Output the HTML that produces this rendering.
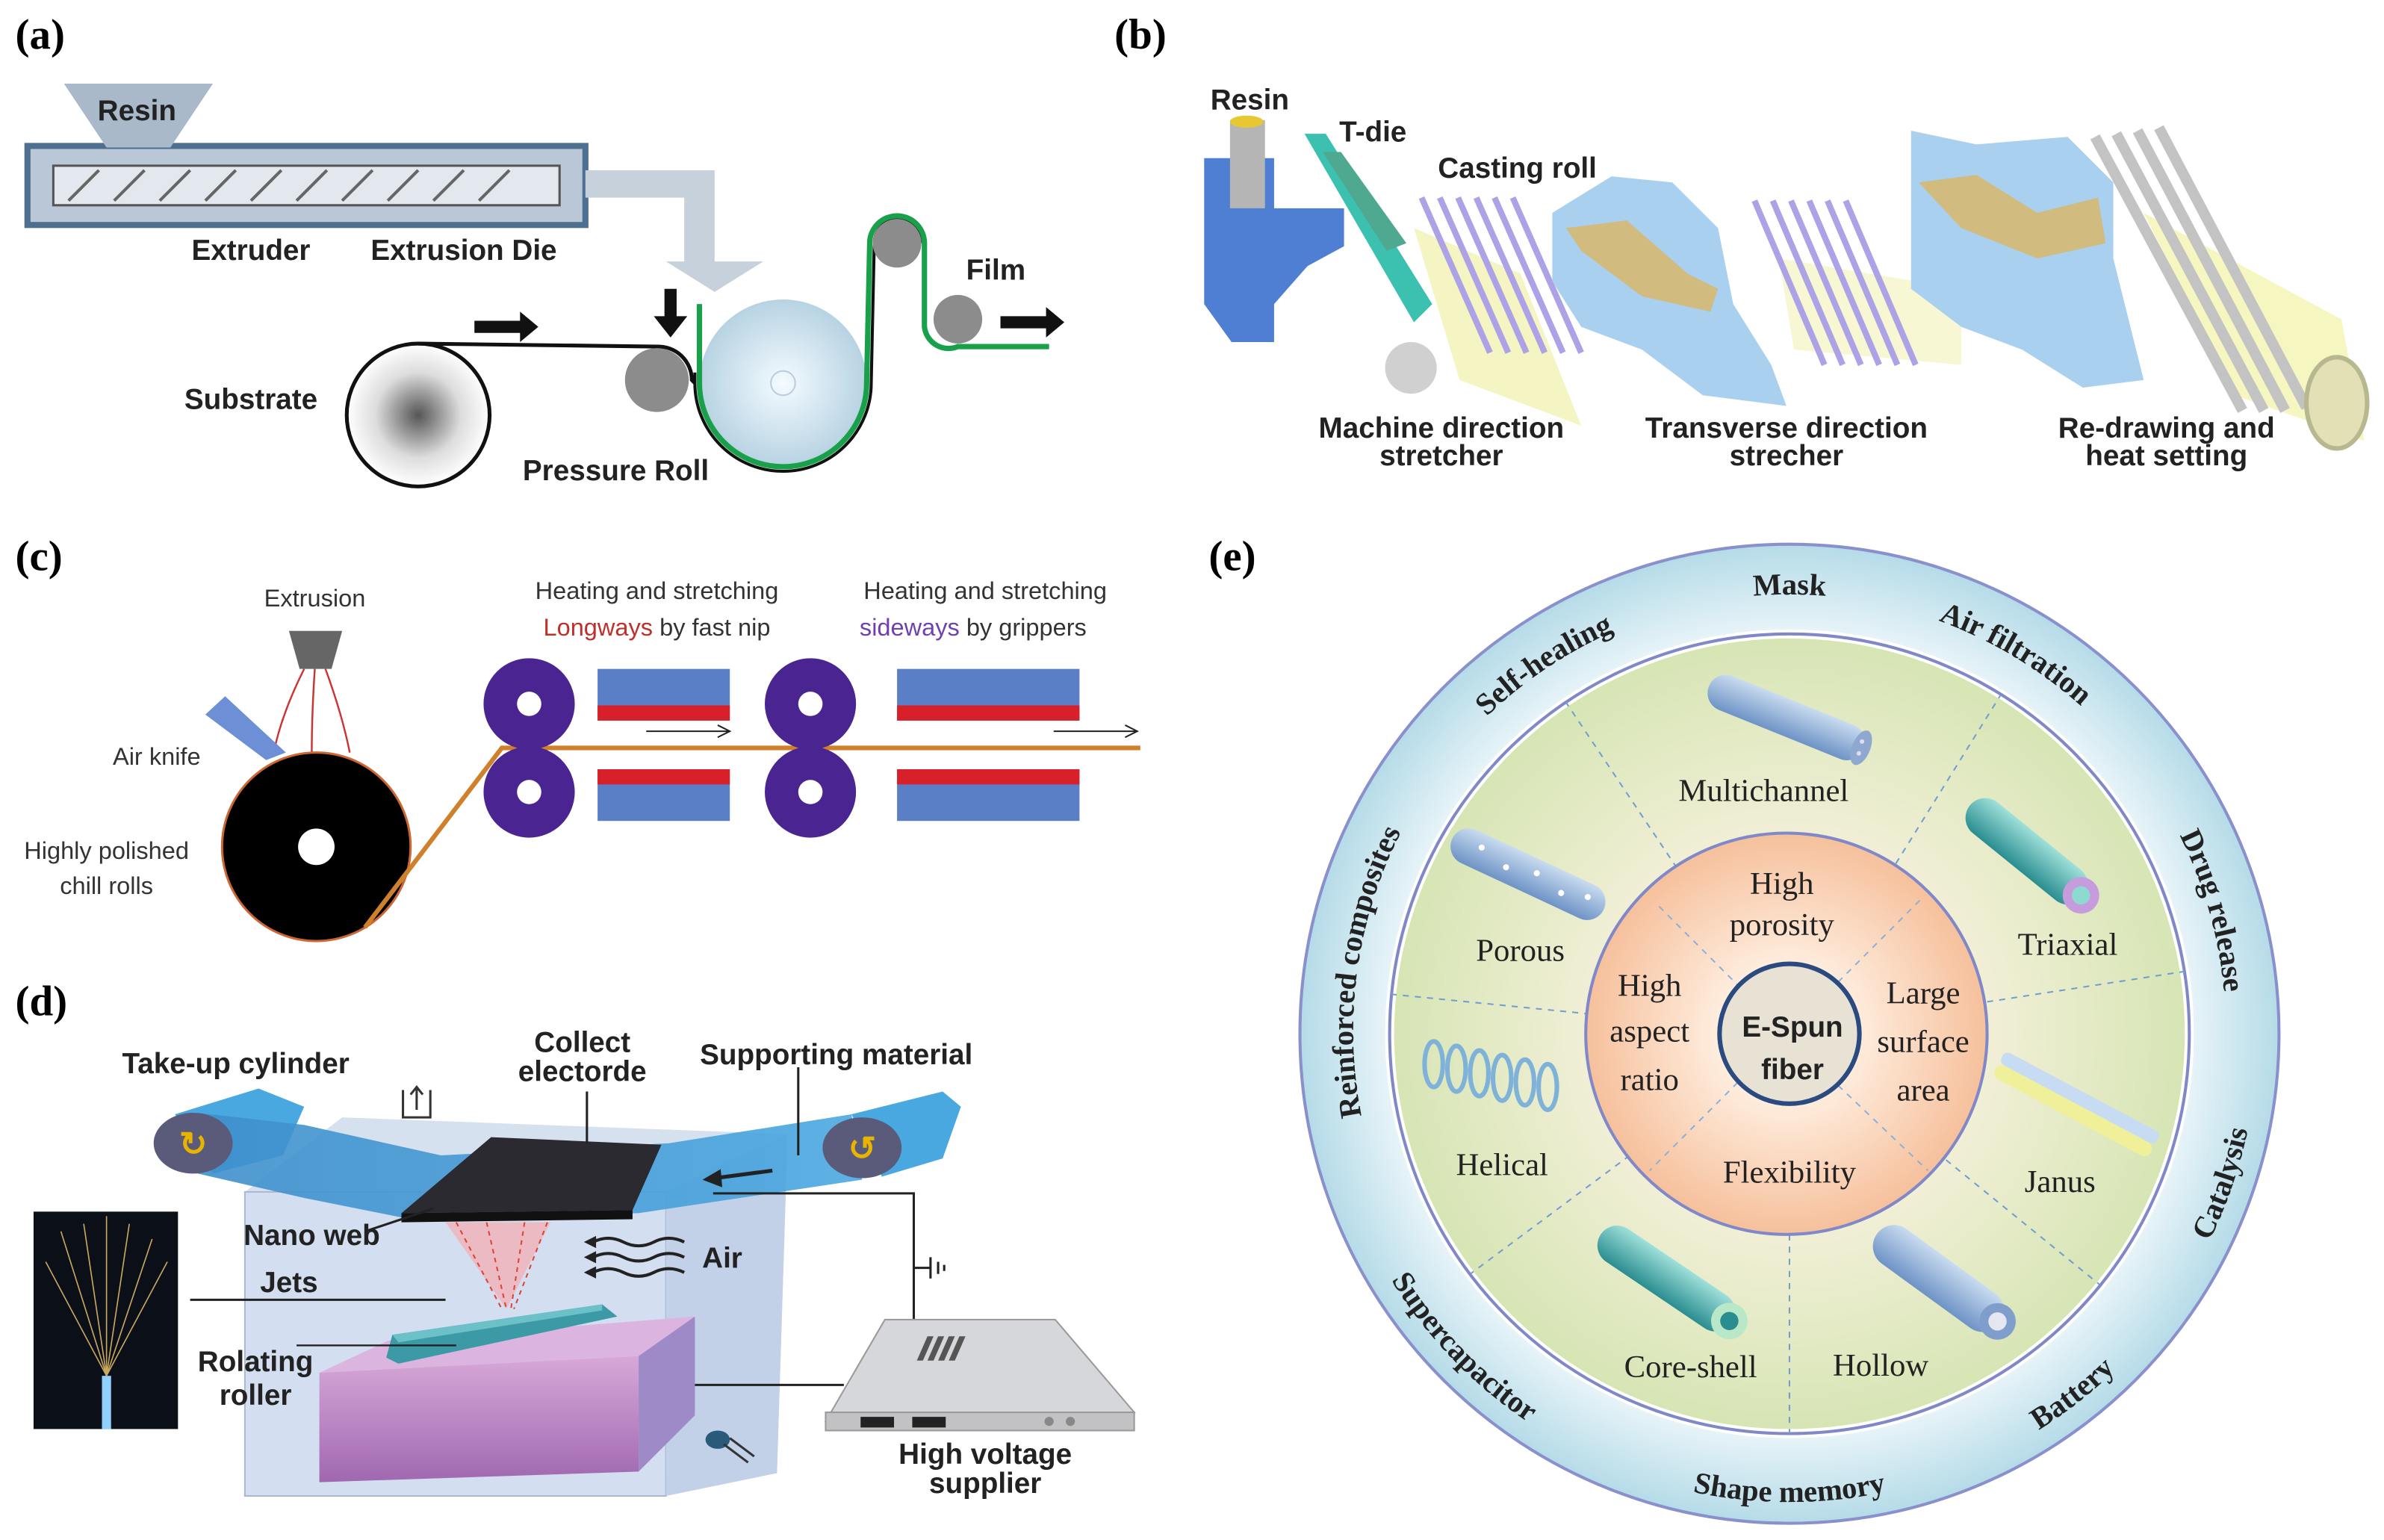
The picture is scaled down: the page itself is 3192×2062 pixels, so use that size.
<!DOCTYPE html>
<html><head><meta charset="utf-8"><style>
html,body{margin:0;padding:0;background:#fff;}
svg{display:block;}
.lb{font-family:"Liberation Serif",serif;font-weight:bold;font-size:28px;}
.s{font-family:"Liberation Sans",sans-serif;font-weight:bold;font-size:19px;fill:#222;}
.c{font-family:"Liberation Sans",sans-serif;font-size:16px;fill:#333;}
.e{font-family:"Liberation Serif",serif;font-size:21px;fill:#222;}
.eb{font-family:"Liberation Serif",serif;font-size:20px;font-weight:bold;fill:#222;}
</style></head><body>
<svg width="3192" height="2062" viewBox="0 0 1568 1013" xmlns="http://www.w3.org/2000/svg">
<defs>
<radialGradient id="sub"><stop offset="0" stop-color="#555"/><stop offset="0.6" stop-color="#ddd"/><stop offset="1" stop-color="#fff"/></radialGradient>
<radialGradient id="big"><stop offset="0" stop-color="#f4fbff"/><stop offset="1" stop-color="#b7d3e3"/></radialGradient>
<radialGradient id="outer" cx="0.5" cy="0.5" r="0.5"><stop offset="0.8" stop-color="#eef7fa"/><stop offset="1" stop-color="#b5dbe8"/></radialGradient>
<radialGradient id="mid"><stop offset="0.5" stop-color="#f1efd6"/><stop offset="1" stop-color="#d6e5b4"/></radialGradient>
<radialGradient id="inn"><stop offset="0.3" stop-color="#fff0e2"/><stop offset="1" stop-color="#f6c09c"/></radialGradient>
<linearGradient id="cyl" x1="0" y1="0" x2="0" y2="1"><stop offset="0" stop-color="#c9dcf0"/><stop offset="1" stop-color="#6e93c6"/></linearGradient>
<linearGradient id="cyl2" x1="0" y1="0" x2="0" y2="1"><stop offset="0" stop-color="#9fe0da"/><stop offset="1" stop-color="#2a8d90"/></linearGradient>
<linearGradient id="pur" x1="0" y1="0" x2="0" y2="1"><stop offset="0" stop-color="#d7a8d8"/><stop offset="1" stop-color="#a068b0"/></linearGradient>
<linearGradient id="belt" x1="0" y1="0" x2="1" y2="0"><stop offset="0" stop-color="#3f8fcc"/><stop offset="1" stop-color="#4aa8e0"/></linearGradient>
<path id="topc" d="M1177,965 A287,287 0 1 1 1177,391 A287,287 0 1 1 1177,965"/>
<path id="botc" d="M869,680 A308,308 0 1 0 1485,680 A308,308 0 1 0 869,680"/>
</defs>

<!-- (a) -->
<text class="lb" x="10" y="32">(a)</text>
<rect x="18" y="96" width="367" height="52" fill="#b9c7d6" stroke="#4f6f90" stroke-width="4"/>
<rect x="35" y="109" width="333" height="26" fill="#e3e8ee" stroke="#555" stroke-width="1.5"/>
<g stroke="#666" stroke-width="2">
<line x1="45" y1="132" x2="65" y2="112"/><line x1="75" y1="132" x2="95" y2="112"/><line x1="105" y1="132" x2="125" y2="112"/><line x1="135" y1="132" x2="155" y2="112"/><line x1="165" y1="132" x2="185" y2="112"/><line x1="195" y1="132" x2="215" y2="112"/><line x1="225" y1="132" x2="245" y2="112"/><line x1="255" y1="132" x2="275" y2="112"/><line x1="285" y1="132" x2="305" y2="112"/><line x1="315" y1="132" x2="335" y2="112"/></g>
<polygon points="42,55 140,55 112,97 70,97" fill="#a9b9ca"/>
<text class="s" x="90" y="79" text-anchor="middle">Resin</text>
<polygon points="385,112 470,112 470,172 502,172 470,192 438,172 450,172 450,130 385,130" fill="#c7d1dc"/>
<text class="s" x="165" y="171" text-anchor="middle">Extruder</text>
<text class="s" x="305" y="171" text-anchor="middle">Extrusion Die</text>
<circle cx="275" cy="273" r="47" fill="url(#sub)" stroke="#111" stroke-width="2.5"/>
<path d="M275,226 L432,228 A22,22 0 0 1 455,250 L457,252" stroke="#111" stroke-width="2.5" fill="none"/>
<circle cx="432" cy="250" r="21" fill="#8c8c8c"/>
<circle cx="515" cy="252" r="55" fill="url(#big)"/>
<circle cx="515" cy="252" r="8" fill="none" stroke="#bcd"/>
<path d="M457,245 L457,252 A58,58 0 0 0 573,252 L575,160 A16,16 0 0 1 607,160" stroke="#111" stroke-width="2" fill="none"/>
<path d="M460,200 L460,252 A55,55 0 0 0 570,252 L572,160 A18,18 0 0 1 608,160 L608,215 A16,16 0 0 0 630,228 L690,228" stroke="#18a04a" stroke-width="3.5" fill="none"/>
<circle cx="590" cy="160" r="16" fill="#8c8c8c"/>
<circle cx="630" cy="210" r="16" fill="#8c8c8c"/>
<text class="s" x="655" y="184" text-anchor="middle">Film</text>
<polygon points="658,208 688,208 688,202 700,212 688,222 688,216 658,216" fill="#111"/>
<polygon points="312,211 342,211 342,205 354,215 342,225 342,219 312,219" fill="#111"/>
<polygon points="437,190 445,190 445,208 452,208 441,222 430,208 437,208" fill="#111"/>
<text class="s" x="405" y="316" text-anchor="middle">Pressure Roll</text>
<text class="s" x="165" y="269" text-anchor="middle">Substrate</text>

<!-- (b) -->
<text class="lb" x="733" y="32">(b)</text>
<polygon points="792,104 838,104 838,137 884,137 884,162 860,175 838,200 838,225 810,225 792,200" fill="#4f7fd2"/>
<rect x="809" y="79" width="23" height="58" fill="#b5b5b5"/>
<ellipse cx="820" cy="80" rx="11" ry="4" fill="#e8c832"/>
<polygon points="930,150 1000,180 1040,280 960,250" fill="#f2f2b0" opacity="0.75"/>
<polygon points="858,88 872,88 942,200 930,212" fill="#3cc0b0"/>
<polygon points="870,100 882,100 925,160 912,165" fill="#4fa890"/>
<circle cx="928" cy="242" r="17" fill="#d0d0d0"/>
<g stroke="#ada2e6" stroke-width="4">
<line x1="935" y1="130" x2="980" y2="232"/><line x1="947" y1="130" x2="992" y2="232"/><line x1="959" y1="130" x2="1004" y2="232"/><line x1="971" y1="130" x2="1016" y2="232"/><line x1="983" y1="130" x2="1028" y2="232"/><line x1="995" y1="130" x2="1040" y2="232"/></g>
<polygon points="1021,140 1060,116 1100,120 1130,150 1140,200 1165,240 1175,267 1120,260 1080,230 1040,215 1021,185" fill="#a9d0ee"/>
<polygon points="1030,150 1070,145 1110,180 1130,190 1125,205 1080,195 1040,165" fill="#d9b76a" opacity="0.85"/>
<polygon points="1170,170 1290,190 1290,240 1180,230" fill="#f4f4c0" opacity="0.7"/>
<g stroke="#ada2e6" stroke-width="4">
<line x1="1154" y1="132" x2="1200" y2="240"/><line x1="1166" y1="132" x2="1212" y2="240"/><line x1="1178" y1="132" x2="1224" y2="240"/><line x1="1190" y1="132" x2="1236" y2="240"/><line x1="1202" y1="132" x2="1248" y2="240"/><line x1="1214" y1="132" x2="1260" y2="240"/></g>
<polygon points="1257,86 1300,95 1360,90 1390,120 1390,170 1410,250 1370,255 1330,230 1290,215 1257,190" fill="#a9d0ee"/>
<polygon points="1262,120 1300,115 1340,140 1380,130 1385,160 1340,170 1290,150" fill="#d9b76a" opacity="0.85"/>
<polygon points="1410,140 1540,210 1555,290 1470,260" fill="#f4f4b0" opacity="0.8"/>
<g stroke="#c3c3c3" stroke-width="7">
<line x1="1378" y1="90" x2="1475" y2="270"/><line x1="1392" y1="88" x2="1489" y2="270"/><line x1="1406" y1="86" x2="1503" y2="270"/><line x1="1420" y1="84" x2="1517" y2="268"/></g>
<ellipse cx="1537" cy="265" rx="20" ry="30" fill="#e2e0b4" stroke="#b8b890" stroke-width="3"/>
<text class="s" x="822" y="72" text-anchor="middle">Resin</text>
<text class="s" x="903" y="93" text-anchor="middle">T-die</text>
<text class="s" x="998" y="117" text-anchor="middle">Casting roll</text>
<text class="s" x="948" y="288" text-anchor="middle">Machine direction</text>
<text class="s" x="948" y="306" text-anchor="middle">stretcher</text>
<text class="s" x="1175" y="288" text-anchor="middle">Transverse  direction</text>
<text class="s" x="1175" y="306" text-anchor="middle">strecher</text>
<text class="s" x="1425" y="288" text-anchor="middle">Re-drawing and</text>
<text class="s" x="1425" y="306" text-anchor="middle">heat setting</text>

<!-- (c) -->
<text class="lb" x="10" y="375">(c)</text>
<text class="c" x="207" y="399" text-anchor="middle">Extrusion</text>
<polygon points="190,415 225,415 218,440 197,440" fill="#666"/>
<g stroke="#c33" stroke-width="1.2" fill="none"><path d="M200,440 Q185,470 180,495"/><path d="M207,440 Q205,470 205,495"/><path d="M214,440 Q225,470 230,495"/></g>
<polygon points="135,470 148,458 188,495 175,500" fill="#6c8fd6"/>
<text class="c" x="103" y="503" text-anchor="middle">Air knife</text>
<text class="c" x="70" y="565" text-anchor="middle">Highly polished</text>
<text class="c" x="70" y="588" text-anchor="middle">chill rolls</text>
<circle cx="208" cy="557" r="62" fill="#000" stroke="#c63" stroke-width="1.5"/>
<circle cx="208" cy="557" r="12" fill="#fff"/>
<path d="M240,610 L330,492 L750,492" stroke="#d0802a" stroke-width="3" fill="none"/>
<text class="c" x="432" y="394" text-anchor="middle">Heating and stretching</text>
<text class="c" x="432" y="418" text-anchor="middle"><tspan fill="#c0302a">Longways</tspan> by fast nip</text>
<text class="c" x="648" y="394" text-anchor="middle">Heating and stretching</text>
<text class="c" x="640" y="418" text-anchor="middle"><tspan fill="#7040b0">sideways</tspan> by grippers</text>
<g fill="#4a2490"><circle cx="348" cy="463" r="30"/><circle cx="348" cy="521" r="30"/><circle cx="533" cy="463" r="30"/><circle cx="533" cy="521" r="30"/></g>
<g fill="#fff"><circle cx="348" cy="463" r="8"/><circle cx="348" cy="521" r="8"/><circle cx="533" cy="463" r="8"/><circle cx="533" cy="521" r="8"/></g>
<rect x="393" y="440" width="87" height="34" fill="#5b7fc6"/><rect x="393" y="464" width="87" height="10" fill="#d8202a"/>
<rect x="393" y="506" width="87" height="34" fill="#5b7fc6"/><rect x="393" y="506" width="87" height="10" fill="#d8202a"/>
<rect x="590" y="440" width="120" height="34" fill="#5b7fc6"/><rect x="590" y="464" width="120" height="10" fill="#d8202a"/>
<rect x="590" y="506" width="120" height="34" fill="#5b7fc6"/><rect x="590" y="506" width="120" height="10" fill="#d8202a"/>
<path d="M425,481 L480,481 M472,477 L480,481 L472,485" stroke="#222" fill="none"/>
<path d="M693,481 L748,481 M740,477 L748,481 L740,485" stroke="#222" fill="none"/>

<!-- (d) -->
<text class="lb" x="10" y="668">(d)</text>
<polygon points="225,735 518,746 511,969 438,984 161,984 161,784" fill="#ccd9ec" opacity="0.8"/>
<polygon points="161,784 438,784 438,984 161,984" fill="#d3def0" stroke="#a8b8d0"/>
<polygon points="438,784 518,746 511,969 438,984" fill="#c2d0e8"/>
<polygon points="210,903 255,882 457,866 457,870 420,892" fill="#dcb4e0"/>
<polygon points="210,903 420,892 420,968 210,975" fill="url(#pur)"/>
<polygon points="420,892 457,866 457,931 420,968" fill="#9f8ac8"/>
<polygon points="254,893 258,878 396,858 406,866 262,897" fill="#3b9aa6"/>
<polygon points="258,878 396,858 396,862 262,883" fill="#6cc0c8"/>
<!-- rolls bodies -->
<polygon points="115,733 170,716 200,728 186,760 140,772" fill="#4aa8e0"/>
<polygon points="560,733 620,718 632,728 620,762 580,774" fill="#4aa8e0"/>
<!-- belt -->
<polygon points="130,732 200,740 290,760 440,752 560,733 567,776 420,798 265,801 200,788 130,772" fill="url(#belt)" opacity="0.9"/>
<ellipse cx="127" cy="752" rx="26" ry="20" fill="#5a5a7a"/>
<ellipse cx="567" cy="755" rx="26" ry="20" fill="#5a5a7a"/>
<text x="127" y="760" font-size="22" fill="#e8b400" text-anchor="middle" font-weight="bold">↻</text>
<text x="567" y="763" font-size="22" fill="#e8b400" text-anchor="middle" font-weight="bold">↺</text>
<polygon points="323,748 435,753 416,796 264,798" fill="#2b2a30"/>
<polygon points="264,798 416,796 416,802 264,804" fill="#111"/>
<polygon points="293,804 362,804 333,861" fill="#f2b0b8" opacity="0.8"/>
<g stroke="#d43" stroke-width="1" stroke-dasharray="3,3"><line x1="300" y1="804" x2="330" y2="861"/><line x1="320" y1="804" x2="333" y2="861"/><line x1="345" y1="804" x2="336" y2="861"/><line x1="360" y1="804" x2="338" y2="861"/></g>
<g stroke="#222" stroke-width="2" fill="none"><path d="M390,817 q10,-5 20,0 t20,0 t20,0"/><path d="M390,827 q10,-5 20,0 t20,0 t20,0"/><path d="M390,837 q10,-5 20,0 t20,0 t20,0"/></g>
<g fill="#222"><polygon points="384,817 392,813 392,821"/><polygon points="384,827 392,823 392,831"/><polygon points="384,837 392,833 392,841"/></g>
<path d="M508,770 L470,775" stroke="#222" stroke-width="2.5"/>
<polygon points="462,776 474,769 475,781" fill="#222"/>
<path d="M469,785 L601,785 L601,868" stroke="#222" stroke-width="1.5" fill="none"/>
<path d="M601,834 L612,834 M612,827 L612,841 M617,830 L617,838 M621,832 L621,836" stroke="#222" stroke-width="1.5"/>
<path d="M457,911 L555,911" stroke="#222" stroke-width="1.5" fill="none"/>
<polygon points="543,935 582,868 694,868 746,929" fill="#d6d7da" stroke="#999"/>
<rect x="543" y="929" width="203" height="12" fill="#c2c2c4" stroke="#999"/>
<g fill="#555"><polygon points="610,879 614,879 607,895 603,895"/><polygon points="617,879 621,879 614,895 610,895"/><polygon points="624,879 628,879 621,895 617,895"/><polygon points="631,879 635,879 628,895 624,895"/></g>
<rect x="566" y="932" width="22" height="7" fill="#222"/><rect x="600" y="932" width="22" height="7" fill="#222"/>
<circle cx="690" cy="935" r="3" fill="#888"/><circle cx="704" cy="935" r="3" fill="#888"/>
<rect x="22" y="797" width="95" height="143" fill="#0b0f18"/>
<g stroke="#c9a860" stroke-width="0.8" fill="none"><path d="M70,905 L40,810"/><path d="M70,905 L55,805"/><path d="M70,905 L70,800"/><path d="M70,905 L85,805"/><path d="M70,905 L100,815"/><path d="M70,905 L30,830"/><path d="M70,905 L110,830"/></g>
<rect x="67" y="905" width="6" height="35" fill="#8fd0ff"/>
<path d="M265,717 L265,735 L283,735 L283,717 M274,730 L274,715 M270,720 L274,715 L278,720" stroke="#333" stroke-width="1.5" fill="none"/>
<ellipse cx="472" cy="947" rx="8" ry="6" fill="#2a5a7a"/>
<path d="M476,950 L492,962 M480,946 L496,958" stroke="#333" stroke-width="1.5"/>
<line x1="125" y1="855" x2="293" y2="855" stroke="#222" stroke-width="1.5"/>
<line x1="240" y1="810" x2="285" y2="795" stroke="#222" stroke-width="1.5"/>
<line x1="195" y1="885" x2="300" y2="885" stroke="#222" stroke-width="1.2"/>
<line x1="386" y1="718" x2="386" y2="752" stroke="#222" stroke-width="1.5"/>
<line x1="525" y1="702" x2="525" y2="760" stroke="#222" stroke-width="1.5"/>
<text class="s" x="155" y="706" text-anchor="middle">Take-up cylinder</text>
<text class="s" x="383" y="692" text-anchor="middle">Collect</text>
<text class="s" x="383" y="711" text-anchor="middle">electorde</text>
<text class="s" x="550" y="700" text-anchor="middle">Supporting material</text>
<text class="s" x="205" y="819" text-anchor="middle">Nano web</text>
<text class="s" x="190" y="850" text-anchor="middle">Jets</text>
<text class="s" x="475" y="834" text-anchor="middle">Air</text>
<text class="s" x="168" y="902" text-anchor="middle">Rolating</text>
<text class="s" x="168" y="924" text-anchor="middle">roller</text>
<text class="s" x="648" y="963" text-anchor="middle">High voltage</text>
<text class="s" x="648" y="982" text-anchor="middle">supplier</text>

<!-- (e) -->
<text class="lb" x="795" y="375">(e)</text>
<circle cx="1177" cy="680" r="322" fill="url(#outer)" stroke="#8a90cc" stroke-width="2"/>
<circle cx="1177" cy="680" r="263" fill="url(#mid)" stroke="#fff" stroke-width="6"/>
<circle cx="1177" cy="680" r="263" fill="none" stroke="#8088c8" stroke-width="2"/>
<g stroke="#6f9ed0" stroke-width="1" stroke-dasharray="4,4">
<line x1="1103" y1="571" x2="1030" y2="462"/>
<line x1="1247" y1="568" x2="1316" y2="457"/>
<line x1="1307" y1="659" x2="1437" y2="639"/>
<line x1="1280" y1="763" x2="1381" y2="845"/>
<line x1="1177" y1="812" x2="1177" y2="943"/>
<line x1="1072" y1="760" x2="967" y2="838"/>
<line x1="1046" y1="667" x2="915" y2="654"/>
</g>
<circle cx="1175" cy="680" r="132" fill="url(#inn)" stroke="#8088c8" stroke-width="2"/>
<g stroke="#8cb0d8" stroke-width="1" stroke-dasharray="4,4"><line x1="1145" y1="650" x2="1090" y2="595"/><line x1="1209" y1="646" x2="1265" y2="590"/><line x1="1143" y1="712" x2="1085" y2="770"/><line x1="1209" y1="714" x2="1268" y2="770"/></g>
<circle cx="1177" cy="680" r="46" fill="#e8e2d4" stroke="#2a4a80" stroke-width="3"/>
<text class="s" x="1179" y="682" text-anchor="middle" font-size="21">E-Spun</text>
<text class="s" x="1179" y="710" text-anchor="middle" font-size="21">fiber</text>
<text class="e" x="1172" y="588" text-anchor="middle">High</text>
<text class="e" x="1172" y="615" text-anchor="middle">porosity</text>
<text class="e" x="1085" y="655" text-anchor="middle">High</text>
<text class="e" x="1085" y="685" text-anchor="middle">aspect</text>
<text class="e" x="1085" y="717" text-anchor="middle">ratio</text>
<text class="e" x="1265" y="660" text-anchor="middle">Large</text>
<text class="e" x="1265" y="692" text-anchor="middle">surface</text>
<text class="e" x="1265" y="724" text-anchor="middle">area</text>
<text class="e" x="1177" y="778" text-anchor="middle">Flexibility</text>
<text class="e" x="1160" y="527" text-anchor="middle">Multichannel</text>
<text class="e" x="1000" y="632" text-anchor="middle">Porous</text>
<text class="e" x="1360" y="628" text-anchor="middle">Triaxial</text>
<text class="e" x="988" y="773" text-anchor="middle">Helical</text>
<text class="e" x="1355" y="784" text-anchor="middle">Janus</text>
<text class="e" x="1112" y="906" text-anchor="middle">Core-shell</text>
<text class="e" x="1237" y="905" text-anchor="middle" font-size="23">Hollow</text>
<g transform="translate(1175,472) rotate(22)"><rect x="-55" y="-12" width="110" height="24" rx="12" fill="url(#cyl)"/><ellipse cx="53" cy="0" rx="6" ry="12" fill="#8fa8d0"/><g fill="#dde"><circle cx="52" cy="-4" r="1.5"/><circle cx="53" cy="4" r="1.5"/></g></g>
<g transform="translate(1005,575) rotate(25)"><rect x="-55" y="-12" width="110" height="24" rx="12" fill="url(#cyl)"/><g fill="#fff"><circle cx="-35" cy="-3" r="2"/><circle cx="-15" cy="2" r="2"/><circle cx="5" cy="-3" r="2"/><circle cx="25" cy="2" r="2"/><circle cx="42" cy="-3" r="2"/></g></g>
<g transform="translate(1333,560) rotate(39)"><rect x="-48" y="-13" width="96" height="26" rx="13" fill="url(#cyl2)"/><circle cx="46" cy="0" r="12" fill="#c79cdc"/><circle cx="46" cy="0" r="6" fill="#8ddbd0"/></g>
<g fill="none" stroke="#7fb2d8" stroke-width="3"><ellipse cx="943" cy="700" rx="6" ry="15"/><ellipse cx="958" cy="703" rx="6" ry="15"/><ellipse cx="973" cy="706" rx="6" ry="15"/><ellipse cx="988" cy="709" rx="6" ry="15"/><ellipse cx="1003" cy="712" rx="6" ry="15"/><ellipse cx="1018" cy="715" rx="6" ry="15"/></g>
<g transform="translate(1365,728) rotate(28)"><rect x="-58" y="-2" width="116" height="10" rx="5" fill="#f0f09a"/><rect x="-58" y="-11" width="116" height="9" rx="4" fill="#c7dcf2"/></g>
<g transform="translate(1096,841) rotate(34)"><rect x="-52" y="-13" width="104" height="26" rx="13" fill="url(#cyl2)"/><circle cx="50" cy="0" r="12" fill="#b8e8c8"/><circle cx="50" cy="0" r="6" fill="#2a8d90"/></g>
<g transform="translate(1275,841) rotate(36)"><rect x="-50" y="-14" width="100" height="28" rx="14" fill="url(#cyl)"/><circle cx="48" cy="0" r="12" fill="#7f9ecc"/><circle cx="48" cy="0" r="6" fill="#e4e6f0"/></g>
<text class="eb"><textPath href="#topc" startOffset="27.2%" text-anchor="middle">Reinforced composites</textPath></text>
<text class="eb"><textPath href="#topc" startOffset="40.6%" text-anchor="middle">Self-healing</textPath></text>
<text class="eb"><textPath href="#topc" startOffset="50%" text-anchor="middle">Mask</textPath></text>
<text class="eb"><textPath href="#topc" startOffset="58.6%" text-anchor="middle">Air filtration</textPath></text>
<text class="eb"><textPath href="#topc" startOffset="70.6%" text-anchor="middle">Drug release</textPath></text>
<text class="eb"><textPath href="#botc" startOffset="12.2%" text-anchor="middle">Supercapacitor</textPath></text>
<text class="eb"><textPath href="#botc" startOffset="25%" text-anchor="middle">Shape memory</textPath></text>
<text class="eb"><textPath href="#botc" startOffset="35.6%" text-anchor="middle">Battery</textPath></text>
<text class="eb"><textPath href="#botc" startOffset="44.7%" text-anchor="middle">Catalysis</textPath></text>
</svg>
</body></html>
